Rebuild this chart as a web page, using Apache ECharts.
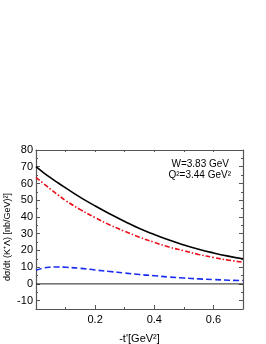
<!DOCTYPE html>
<html><head><meta charset="utf-8">
<script src="https://cdn.jsdelivr.net/npm/echarts@6/dist/echarts.min.js"></script>
<style>html,body{margin:0;padding:0;background:#fff}#c{width:266px;height:344px}</style>
</head><body><div id="c"></div>
<script>
const tValues = [0, 0.025, 0.05, 0.075, 0.1, 0.15, 0.2, 0.25, 0.3, 0.35, 0.4, 0.45, 0.5, 0.55, 0.6, 0.65, 0.7];
const totalValues = [70, 66.5, 63.3, 60.3, 57.4, 51.7, 46.6, 41.8, 37.3, 33.1, 29.5, 26.2, 23.3, 20.7, 18.5, 16.6, 15.0];
const dashDotValues = [63.7, 60, 56.5, 53.1, 49.8, 44.4, 39.6, 35.2, 31.4, 27.9, 24.8, 22.0, 19.8, 17.6, 15.8, 14.2, 13.0];
const dashedValues = [8.1, 9.5, 10.0, 10.1, 9.9, 9.3, 8.3, 7.4, 6.5, 5.6, 4.9, 4.1, 3.5, 3.0, 2.6, 2.2, 2.0];
const xMajorTicks = [0.2, 0.4, 0.6];
const xMinorTicks = [0.1, 0.3, 0.5];
const yMajorTicks = [-10, 0, 10, 20, 30, 40, 50, 60, 70, 80];
const yMinorTicks = [-5, 5, 15, 25, 35, 45, 55, 65, 75];
const xRange = [0, 0.7];
const yRange = [-15, 80];

const pair = (vals) => tValues.map((t, i) => [t, vals[i]]);
const FONT = 'Liberation Sans, Arial, sans-serif';
const AX = '#555';

function xAx(pos, ticks, len, showLabel, showLine, extra) {
  return Object.assign({
    type: 'value', position: pos, min: xRange[0], max: xRange[1],
    axisLine: { show: showLine, onZero: false, lineStyle: { color: AX, width: 1.2 } },
    axisTick: { show: true, inside: true, length: len, customValues: ticks, lineStyle: { color: AX, width: 1 } },
    axisLabel: { show: showLabel, customValues: ticks, color: '#000', fontSize: 11, fontFamily: FONT, margin: 5 },
    splitLine: { show: false }
  }, extra || {});
}
function yAx(pos, ticks, len, showLabel, showLine, extra) {
  return Object.assign({
    type: 'value', position: pos, min: yRange[0], max: yRange[1],
    axisLine: { show: showLine, onZero: false, lineStyle: { color: AX, width: 1.2 } },
    axisTick: { show: true, inside: true, length: len, customValues: ticks, lineStyle: { color: AX, width: 1 } },
    axisLabel: { show: showLabel, customValues: ticks, color: '#000', fontSize: 11, fontFamily: FONT, margin: 3 },
    splitLine: { show: false }
  }, extra || {});
}

const chart = echarts.init(document.getElementById('c'), null, { renderer: 'canvas' });
chart.setOption({
  animation: false,
  grid: { left: 36, right: 23, top: 150, bottom: 35, containLabel: false, outerBoundsMode: 'none' },
  xAxis: [
    xAx('bottom', xMajorTicks, 4, true, true, {
      name: "-t'[GeV²]", nameLocation: 'middle', nameGap: 24,
      nameTextStyle: { color: '#000', fontSize: 11, fontFamily: FONT }
    }),
    xAx('bottom', xMinorTicks, 2, false, false),
    xAx('top', xMajorTicks.concat(xMinorTicks), 2, false, true)
  ],
  yAxis: [
    yAx('left', yMajorTicks, 4, true, true),
    yAx('left', yMinorTicks, 2, false, false),
    yAx('right', yMajorTicks, 4, false, true),
    yAx('right', yMinorTicks, 2, false, false)
  ],
  series: [
    { type: 'line', data: [[xRange[0], 0], [xRange[1], 0]], symbol: 'none', silent: true,
      lineStyle: { color: '#222', width: 1 } },
    { type: 'line', data: pair(totalValues), smooth: true, symbol: 'none',
      lineStyle: { color: '#000', width: 1.6 } },
    { type: 'line', data: pair(dashDotValues), smooth: true, symbol: 'none',
      lineStyle: { color: '#e8101a', width: 1.6, type: [5, 2, 1.5, 2] } },
    { type: 'line', data: pair(dashedValues), smooth: true, symbol: 'none',
      lineStyle: { color: '#1a2cf0', width: 1.6, type: [6, 3] } }
  ],
  graphic: [
    { type: 'text', x: 8, y: 237, rotation: Math.PI / 2,
      style: { text: 'dσ/dt (K⁺Λ) [nb/GeV)²]', fontSize: 9, fontFamily: FONT, fill: '#000',
               align: 'center', verticalAlign: 'middle' } },
    { type: 'text', right: 37, top: 159,
      style: { text: 'W=3.83 GeV', fontSize: 10, fontFamily: FONT, fill: '#000' } },
    { type: 'text', right: 35, top: 170,
      style: { text: 'Q²=3.44 GeV²', fontSize: 10, fontFamily: FONT, fill: '#000' } }
  ]
});
</script></body></html>
